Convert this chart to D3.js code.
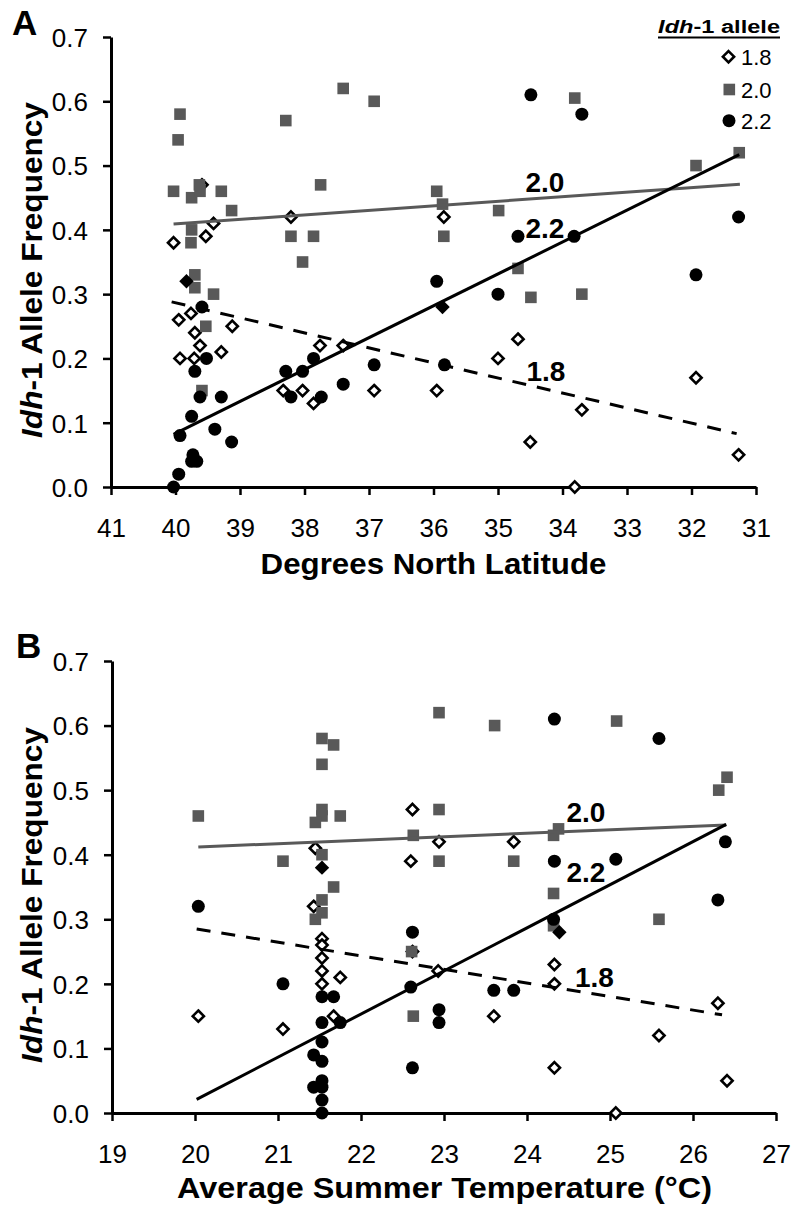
<!DOCTYPE html>
<html><head><meta charset="utf-8">
<script src="https://cdn.jsdelivr.net/npm/d3@7/dist/d3.min.js"></script>
<style>
body{margin:0;background:#fff}
svg{display:block}
text{font-family:"Liberation Sans",Arial,Helvetica,sans-serif;fill:#000}
</style>
</head><body>
<svg id="c" width="792" height="1209"></svg>
<script>
// ---------- DATA ----------
const yTickValues = [0,0.1,0.2,0.3,0.4,0.5,0.6,0.7];
const latTicks = [41,40,39,38,37,36,35,34,33,32,31];
const tempTicks = [19,20,21,22,23,24,25,26,27];
const alleles = ["1.8","2.0","2.2"];

// Panel A: [latitude, frequency]
const latAllele18 = [[40.03,0.38],[39.59,0.47],[39.53,0.39],[39.41,0.41],[38.21,0.42],[35.84,0.42],
  [39.95,0.26],[39.76,0.27],[39.70,0.24],[39.62,0.22],[39.93,0.20],[39.71,0.20],[39.29,0.21],[39.12,0.25],
  [37.76,0.22],[37.40,0.22],[38.33,0.15],[38.03,0.15],[37.86,0.13],[36.92,0.15],[34.69,0.23],[35.00,0.20],
  [35.95,0.15],[33.70,0.12],[34.50,0.07],[31.93,0.17],[31.27,0.05],[33.81,0.00]];
const latAllele20 = [[39.93,0.58],[39.96,0.54],[40.03,0.46],[39.75,0.45],[39.63,0.47],[39.62,0.46],[39.29,0.46],
  [39.13,0.43],[39.75,0.40],[39.76,0.38],[39.70,0.33],[39.70,0.31],[39.41,0.30],[39.53,0.25],[39.59,0.15],
  [38.29,0.57],[37.40,0.62],[36.92,0.60],[37.75,0.47],[38.21,0.39],[37.86,0.39],[38.03,0.35],[33.81,0.605],
  [31.93,0.50],[31.26,0.52],[35.95,0.46],[35.86,0.44],[34.99,0.43],[35.84,0.39],[34.69,0.34],[34.49,0.295],[33.70,0.30]];
const latAllele22 = [[34.49,0.61],[33.70,0.58],[31.27,0.42],[34.69,0.39],[33.82,0.39],[35.95,0.32],[31.93,0.33],
  [35.00,0.30],[35.83,0.19],[39.59,0.28],[39.52,0.20],[39.70,0.18],[39.62,0.14],[39.29,0.14],[39.75,0.11],
  [39.39,0.09],[39.13,0.07],[39.93,0.08],[39.73,0.05],[39.67,0.04],[39.75,0.04],[39.95,0.02],[40.03,0.00],
  [38.29,0.18],[38.21,0.14],[38.03,0.18],[37.86,0.20],[37.74,0.14],[37.40,0.16],[36.92,0.19]];
const latSolidDiamonds = [[39.83,0.32],[35.86,0.28]];
const latTrend18 = [[40.06,0.288],[31.30,0.083]];
const latTrend20 = [[40.03,0.409],[31.25,0.471]];
const latTrend22 = [[40.03,0.082],[31.26,0.517]];

// Panel B: [temperature, frequency]
const tempAllele18 = [[20.04,0.15],[21.06,0.13],[21.43,0.32],[21.45,0.41],[21.53,0.27],[21.53,0.26],[21.53,0.24],
  [21.53,0.22],[21.53,0.20],[21.75,0.21],[21.67,0.15],[22.62,0.47],[22.94,0.42],[23.84,0.42],[22.60,0.39],
  [22.62,0.25],[22.93,0.22],[23.60,0.15],[24.33,0.23],[24.33,0.20],[26.30,0.17],[25.59,0.12],[24.33,0.07],
  [26.41,0.05],[25.07,0.00]];
const tempAllele20 = [[20.04,0.46],[21.06,0.39],[21.53,0.58],[21.67,0.57],[21.53,0.54],[21.53,0.47],[21.53,0.46],
  [21.45,0.45],[21.75,0.46],[21.53,0.40],[21.67,0.35],[21.53,0.33],[21.53,0.31],[21.45,0.30],[22.94,0.62],
  [23.61,0.60],[25.08,0.607],[26.41,0.52],[26.31,0.50],[22.94,0.47],[22.63,0.43],[24.38,0.44],[24.32,0.43],
  [22.94,0.39],[23.84,0.39],[24.32,0.34],[24.32,0.29],[25.59,0.30],[22.61,0.25],[22.63,0.15]];
const tempAllele22 = [[24.33,0.61],[25.59,0.58],[26.39,0.42],[24.33,0.39],[25.07,0.393],[20.04,0.32],[21.06,0.20],
  [21.53,0.18],[21.67,0.18],[21.53,0.14],[21.75,0.14],[21.53,0.11],[21.43,0.09],[21.53,0.08],[21.53,0.05],
  [21.43,0.04],[21.53,0.04],[21.53,0.02],[21.53,0.00],[26.30,0.33],[24.32,0.30],[22.62,0.28],[22.60,0.195],
  [23.60,0.19],[23.84,0.19],[22.94,0.16],[22.94,0.14],[22.62,0.07]];
const tempSolidDiamonds = [[21.53,0.38],[24.39,0.28]];
const tempTrend18 = [[20.02,0.285],[26.35,0.152]];
const tempTrend20 = [[20.04,0.412],[26.40,0.446]];
const tempTrend22 = [[20.02,0.021],[26.40,0.447]];

// ---------- DRAWING ----------
const svg = d3.select("#c");
const GRAY = "#595959";
const fmt = d3.format(".1f");

function diamondPath(r){ return `M0,${-r}L${r},0L0,${r}L${-r},0Z`; }

function fitText(sel, target){
  const w = sel.node().getComputedTextLength();
  return target / w;
}

function panel(cfg){
  const g = svg.append("g");
  const x = cfg.x, y = cfg.y;

  // axes
  const ya = g.append("g").attr("transform",`translate(${x.range()[0]},0)`)
    .call(d3.axisLeft(y).tickValues(yTickValues).tickFormat(fmt).tickSize(8).tickSizeOuter(0).tickPadding(16));
  const xa = g.append("g").attr("transform",`translate(0,${y.range()[0]})`)
    .call(d3.axisBottom(x).tickValues(cfg.xTicks).tickFormat(d3.format("d")).tickSize(8).tickSizeOuter(0).tickPadding(24));
  [ya,xa].forEach(a=>{
    a.select(".domain").attr("stroke","#000").attr("stroke-width",3);
    a.selectAll(".tick line").attr("stroke","#000").attr("stroke-width",2.5);
    a.selectAll(".tick text").attr("font-size",26).attr("fill","#000")
      .style("font-family",'"Liberation Sans",Arial,sans-serif');
  });
  ya.selectAll(".tick text").attr("dy","0.36em").attr("x",-23);
  xa.selectAll(".tick text").attr("dy","0.71em");

  // markers: 1.8 diamonds, 2.0 squares, 2.2 circles
  g.append("g").selectAll("path").data(cfg.s18).join("path")
    .attr("d",diamondPath(5.6))
    .attr("transform",d=>`translate(${x(d[0])},${y(d[1])})`)
    .attr("fill","#fff").attr("stroke","#000").attr("stroke-width",2.6).attr("stroke-linejoin","miter");
  g.append("g").selectAll("rect").data(cfg.s20).join("rect")
    .attr("x",d=>x(d[0])-5.8).attr("y",d=>y(d[1])-5.8)
    .attr("width",11.6).attr("height",11.6).attr("fill",GRAY);
  g.append("g").selectAll("circle").data(cfg.s22).join("circle")
    .attr("cx",d=>x(d[0])).attr("cy",d=>y(d[1])).attr("r",6.5).attr("fill","#000");
  g.append("g").selectAll("path").data(cfg.solid).join("path")
    .attr("d",diamondPath(7.2))
    .attr("transform",d=>`translate(${x(d[0])},${y(d[1])})`)
    .attr("fill","#000");

  // trend lines
  const line = d3.line().x(d=>x(d[0])).y(d=>y(d[1]));
  g.append("path").attr("d",line(cfg.t20)).attr("stroke",GRAY).attr("stroke-width",3).attr("fill","none");
  g.append("path").attr("d",line(cfg.t22)).attr("stroke","#000").attr("stroke-width",3).attr("fill","none");
  g.append("path").attr("d",line(cfg.t18)).attr("stroke","#000").attr("stroke-width",3).attr("fill","none")
    .attr("stroke-dasharray","14,11");

  // trend labels
  cfg.labels.forEach((p,i)=>{
    g.append("text").attr("x",p[0]).attr("y",p[1]).attr("font-size",28).attr("font-weight","bold")
      .text(alleles[[1,2,0][i]]);
  });

  // x title
  const xt = g.append("text").attr("font-size",29).attr("font-weight","bold").attr("text-anchor","middle")
    .text(cfg.xTitle);
  const kx = fitText(xt, cfg.xTitleW);
  xt.attr("transform",`translate(${cfg.xTitleX},${cfg.xTitleY}) scale(${kx},1)`);

  // y title
  const yt = g.append("text").attr("font-size",30).attr("font-weight","bold").attr("text-anchor","middle");
  yt.append("tspan").attr("font-style","italic").text("Idh");
  yt.append("tspan").text("-1 Allele Frequency");
  const ky = fitText(yt, 336);
  yt.attr("transform",`translate(42,${cfg.yTitleC}) rotate(-90) scale(${ky},1)`);

  // panel letter
  g.append("text").attr("x",cfg.letterX).attr("y",cfg.letterY).attr("font-size",35).attr("font-weight","bold")
    .text(cfg.letter);
}

const xA = d3.scaleLinear().domain([41,31]).range([111,756]);
const yA = d3.scaleLinear().domain([0,0.7]).range([487,37]);
const xB = d3.scaleLinear().domain([19,27]).range([112,776]);
const yB = d3.scaleLinear().domain([0,0.7]).range([1113,661]);

panel({x:xA,y:yA,xTicks:latTicks,s18:latAllele18,s20:latAllele20,s22:latAllele22,solid:latSolidDiamonds,
  t18:latTrend18,t20:latTrend20,t22:latTrend22,
  labels:[[525.5,191.5],[525.5,237.5],[526.5,380.5]],
  xTitle:"Degrees North Latitude",xTitleX:433.5,xTitleY:574,xTitleW:346,yTitleC:270,
  letter:"A",letterX:12,letterY:35});

panel({x:xB,y:yB,xTicks:tempTicks,s18:tempAllele18,s20:tempAllele20,s22:tempAllele22,solid:tempSolidDiamonds,
  t18:tempTrend18,t20:tempTrend20,t22:tempTrend22,
  labels:[[566.5,821.5],[566.5,881.5],[575,986.5]],
  xTitle:"Average Summer Temperature (°C)",xTitleX:444.5,xTitleY:1198,xTitleW:535,yTitleC:895,
  letter:"B",letterX:16,letterY:658});

// legend
const lg = svg.append("g");
const lt = lg.append("text").attr("font-size",19).attr("font-weight","bold").attr("text-anchor","end");
lt.append("tspan").attr("font-style","italic").text("Idh");
lt.append("tspan").text("-1 allele");
const kl = fitText(lt,122);
lt.attr("transform",`translate(780,33) scale(${kl},1)`);
lg.append("line").attr("x1",658).attr("x2",780).attr("y1",37.5).attr("y2",37.5).attr("stroke","#000").attr("stroke-width",2);
const legY = [56.7, 89.5, 120.7];
lg.append("path").attr("d",diamondPath(5.6)).attr("transform",`translate(728.5,${legY[0]})`)
  .attr("fill","#fff").attr("stroke","#000").attr("stroke-width",2.6);
lg.append("rect").attr("x",729.3-5.8).attr("y",legY[1]-5.8).attr("width",11.6).attr("height",11.6).attr("fill",GRAY);
lg.append("circle").attr("cx",729).attr("cy",legY[2]).attr("r",6.5).attr("fill","#000");
alleles.forEach((a,i)=>{
  lg.append("text").attr("x",741).attr("y",legY[i]+8.3).attr("font-size",22).text(a);
});
</script>
</body></html>
